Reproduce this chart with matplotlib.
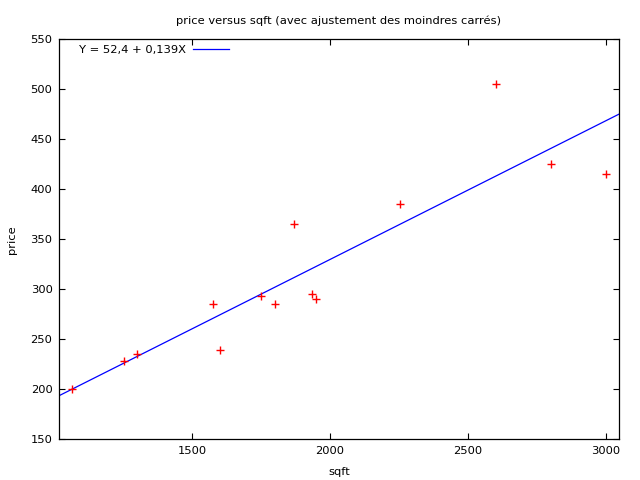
import numpy as np
import matplotlib
matplotlib.use("Agg")
import matplotlib.pyplot as plt

sqft = [1065, 1254, 1300, 1577, 1600, 1750, 1800, 1870, 1935, 1948, 2254, 2600, 2800, 3000]
price = [199.9, 228, 235, 285, 239, 293, 285, 365, 295, 290, 385, 505, 425, 415]
xticks = [1500, 2000, 2500, 3000]
yticks = [150, 200, 250, 300, 350, 400, 450, 500, 550]
title = "price versus sqft (avec ajustement des moindres carrés)"
legend_label = "Y = 52,4 + 0,139X"

FS = 8.25
plt.rcParams['font.family'] = ['DejaVu Sans']
plt.rcParams['font.size'] = FS

fig = plt.figure(figsize=(6.4, 4.8), dpi=100)
ax = fig.add_axes([58.7/640, 1 - 439.3/480, (619.3-58.7)/640, 400/480])

x = np.array(sqft, dtype=float)
y = np.array(price, dtype=float)
pad = 0.025 * (x.max() - x.min())
xlo, xhi = x.min() - pad, x.max() + pad
b, a = np.polyfit(x, y, 1)
xl = np.array([xlo, xhi])
ax.plot(xl, a + b * xl, color='#0000ff', lw=0.9, label=legend_label)
ax.plot(x, y, linestyle='none', marker='+', color='#ff0000', markersize=6, markeredgewidth=1.0)

ax.set_xlim(xlo, xhi)
ax.set_ylim(150, 550)
ax.set_xticks(xticks)
ax.set_yticks(yticks)
ax.tick_params(direction='in', length=4.3, width=0.8, top=True, right=True, labelsize=FS, pad=5)
ax.tick_params(axis='y', pad=4.5)
for s in ax.spines.values():
    s.set_linewidth(0.9)

ax.set_xlabel('sqft', fontsize=FS, labelpad=8)
ax.set_ylabel('price', fontsize=FS, labelpad=9.5)
ax.set_title(title, fontsize=FS, pad=11)

ax.legend(loc='upper left', bbox_to_anchor=(0.036, 0.985), frameon=False, markerfirst=False,
          borderpad=0, borderaxespad=0, handlelength=3.2, handletextpad=0.6, fontsize=FS)

fig.savefig('out.png', dpi=100)
